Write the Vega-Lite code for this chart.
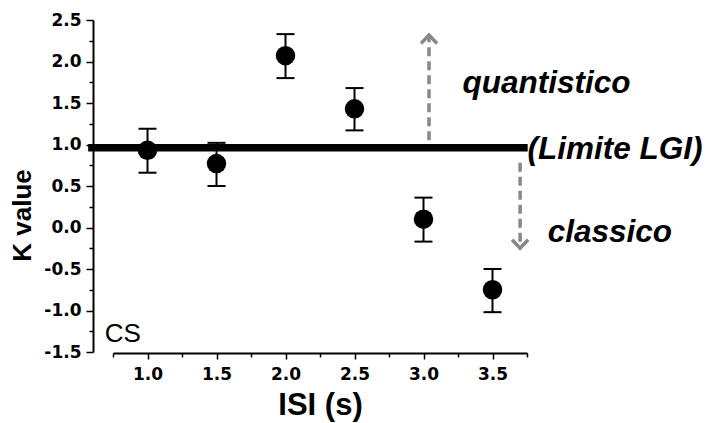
{
  "$schema": "https://vega.github.io/schema/vega-lite/v6.json",
  "width": 414,
  "height": 332,
  "autosize": {"type": "none"},
  "padding": {"left": 113, "top": 20, "right": 180, "bottom": 71},
  "background": "white",
  "config": {"view": {"stroke": null}, "font": "Liberation Sans"},
  "datasets": {
    "pts": [
      {"isi": 1.0, "k": 0.93, "lo": 0.66, "hi": 1.19},
      {"isi": 1.5, "k": 0.77, "lo": 0.50, "hi": 1.02},
      {"isi": 2.0, "k": 2.07, "lo": 1.80, "hi": 2.33},
      {"isi": 2.5, "k": 1.43, "lo": 1.17, "hi": 1.68},
      {"isi": 3.0, "k": 0.10, "lo": -0.17, "hi": 0.36},
      {"isi": 3.5, "k": -0.75, "lo": -1.02, "hi": -0.50}
    ],
    "limit": [{"x1": 0.57, "x2": 3.755, "y": 0.96}],
    "shafts": [
      {"id": "up", "x": 3.04, "y": 1.05},
      {"id": "up", "x": 3.04, "y": 2.29},
      {"id": "down", "x": 3.7, "y": 0.78},
      {"id": "down", "x": 3.7, "y": -0.21}
    ],
    "headUp": [{"x": 3.04, "y": 2.27}],
    "headDown": [{"x": 3.7, "y": -0.2}],
    "labels": [
      {"t": "quantistico", "x": 3.283, "y": 1.62},
      {"t": "(Limite LGI)", "x": 3.754, "y": 0.83},
      {"t": "classico", "x": 3.9, "y": -0.18}
    ],
    "cs": [{"t": "CS", "x": 0.69, "y": -1.38}]
  },
  "encoding": {
    "x": {
      "type": "quantitative",
      "scale": {"domain": [0.75, 3.75], "nice": false, "zero": false},
      "axis": {
        "title": "ISI (s)",
        "values": [0.75, 1.0, 1.25, 1.5, 1.75, 2.0, 2.25, 2.5, 2.75, 3.0, 3.25, 3.5, 3.75],
        "labelExpr": "abs(datum.value*2 - round(datum.value*2)) < 0.01 ? replace(format(datum.value, '.1f'), '\u2212', '-') : ''",
        "tickSize": {"condition": {"test": "abs(datum.value*2 - round(datum.value*2)) < 0.01", "value": 6}, "value": 4},
        "grid": false,
        "domainColor": "black",
        "domainWidth": 2,
        "tickColor": "black",
        "tickWidth": 1.5,
        "labelFont": "DejaVu Sans",
        "labelFontWeight": "bold",
        "labelFontSize": 17,
        "labelColor": "black",
        "labelPadding": 7,
        "titleFont": "Liberation Sans",
        "titleFontWeight": "bold",
        "titleFontSize": 31,
        "titleColor": "black",
        "titlePadding": 8,
        "offset": 1
      }
    },
    "y": {
      "type": "quantitative",
      "scale": {"domain": [-1.5, 2.5], "nice": false, "zero": false},
      "axis": {
        "title": "K value",
        "values": [-1.5, -1.25, -1.0, -0.75, -0.5, -0.25, 0, 0.25, 0.5, 0.75, 1.0, 1.25, 1.5, 1.75, 2.0, 2.25, 2.5],
        "labelExpr": "abs(datum.value*2 - round(datum.value*2)) < 0.01 ? replace(format(datum.value, '.1f'), '\u2212', '-') : ''",
        "tickSize": {"condition": {"test": "abs(datum.value*2 - round(datum.value*2)) < 0.01", "value": 7}, "value": 4},
        "grid": false,
        "domainColor": "black",
        "domainWidth": 2,
        "tickColor": "black",
        "tickWidth": 1.5,
        "labelFont": "DejaVu Sans",
        "labelFontWeight": "bold",
        "labelFontSize": 17,
        "labelColor": "black",
        "labelPadding": 5,
        "titleFont": "Liberation Sans",
        "titleFontWeight": "bold",
        "titleFontSize": 26,
        "titleColor": "black",
        "titlePadding": 8,
        "titleY": 195,
        "offset": 20
      }
    }
  },
  "layer": [
    {
      "data": {"name": "limit"},
      "mark": {"type": "rule", "color": "black", "strokeWidth": 7.5},
      "encoding": {"x": {"field": "x1"}, "x2": {"field": "x2"}, "y": {"field": "y"}}
    },
    {
      "data": {"name": "shafts"},
      "mark": {"type": "line", "color": "#888888", "strokeWidth": 3.5, "strokeDash": [9, 5]},
      "encoding": {"x": {"field": "x"}, "y": {"field": "y"}, "detail": {"field": "id"}}
    },
    {
      "data": {"name": "headUp"},
      "mark": {"type": "point", "shape": "M-1,0.55L0,-0.5L1,0.55", "filled": false, "stroke": "#888888", "strokeWidth": 3.5, "size": 256, "opacity": 1},
      "encoding": {"x": {"field": "x"}, "y": {"field": "y"}}
    },
    {
      "data": {"name": "headDown"},
      "mark": {"type": "point", "shape": "M-1,-0.55L0,0.5L1,-0.55", "filled": false, "stroke": "#888888", "strokeWidth": 3.5, "size": 256, "opacity": 1},
      "encoding": {"x": {"field": "x"}, "y": {"field": "y"}}
    },
    {
      "data": {"name": "pts"},
      "mark": {"type": "rule", "color": "black", "strokeWidth": 2},
      "encoding": {"x": {"field": "isi"}, "y": {"field": "lo"}, "y2": {"field": "hi"}}
    },
    {
      "data": {"name": "pts"},
      "mark": {"type": "tick", "orient": "horizontal", "color": "black", "thickness": 2, "size": 18, "opacity": 1},
      "encoding": {"x": {"field": "isi"}, "y": {"field": "lo"}}
    },
    {
      "data": {"name": "pts"},
      "mark": {"type": "tick", "orient": "horizontal", "color": "black", "thickness": 2, "size": 18, "opacity": 1},
      "encoding": {"x": {"field": "isi"}, "y": {"field": "hi"}}
    },
    {
      "data": {"name": "pts"},
      "mark": {"type": "point", "shape": "circle", "filled": true, "color": "black", "size": 380, "opacity": 1},
      "encoding": {"x": {"field": "isi"}, "y": {"field": "k"}}
    },
    {
      "data": {"name": "labels"},
      "mark": {"type": "text", "align": "left", "baseline": "alphabetic", "font": "Liberation Sans", "fontWeight": "bold", "fontStyle": "italic", "fontSize": 31.5, "color": "black"},
      "encoding": {"x": {"field": "x"}, "y": {"field": "y"}, "text": {"field": "t"}}
    },
    {
      "data": {"name": "cs"},
      "mark": {"type": "text", "align": "left", "baseline": "alphabetic", "font": "Liberation Sans", "fontSize": 26, "color": "black"},
      "encoding": {"x": {"field": "x"}, "y": {"field": "y"}, "text": {"field": "t"}}
    }
  ]
}
